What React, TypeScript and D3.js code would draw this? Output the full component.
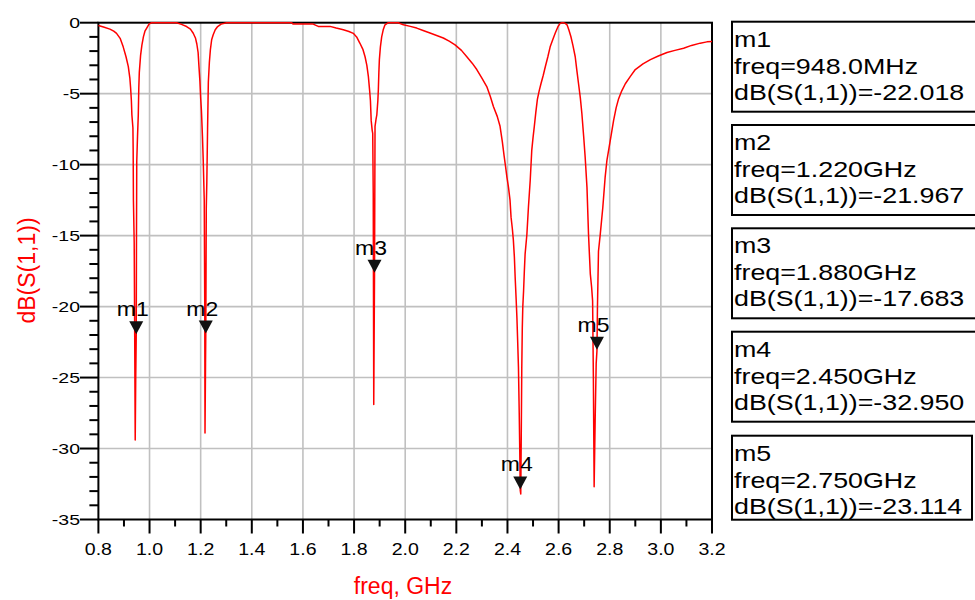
import React from 'react';
import * as d3 from 'd3';

// S11 trace (GHz, dB)
const freqGHz = [
  0.800, 0.820, 0.845, 0.860, 0.871, 0.885, 0.897, 0.908, 0.917, 0.923, 0.926, 0.929, 0.931, 0.935,
  0.936, 0.937, 0.940, 0.942, 0.944, 0.946, 0.948, 0.949, 0.950, 0.953, 0.956, 0.958, 0.960, 0.965,
  0.970, 0.976, 0.982, 0.989, 0.998, 1.008,
  1.100, 1.106, 1.125, 1.145, 1.160, 1.171, 1.180, 1.185, 1.190, 1.193, 1.197, 1.200, 1.203, 1.207,
  1.210, 1.214, 1.216, 1.217, 1.219, 1.220, 1.222, 1.224, 1.227, 1.230, 1.234, 1.238, 1.243, 1.249,
  1.257, 1.265, 1.280, 1.302,
  1.549, 1.556, 1.562, 1.640, 1.660, 1.706,
  1.730, 1.758, 1.780, 1.797, 1.810, 1.823, 1.835, 1.843, 1.850, 1.856, 1.861, 1.864, 1.867, 1.871,
  1.873, 1.875, 1.877, 1.880, 1.882, 1.886, 1.889, 1.893, 1.895, 1.897, 1.899, 1.903, 1.908, 1.914,
  1.921, 1.934, 1.973, 1.993, 2.020, 2.045, 2.070, 2.097, 2.123, 2.149, 2.172, 2.195, 2.220, 2.241,
  2.262, 2.280, 2.300, 2.319, 2.333, 2.345, 2.360, 2.371, 2.380, 2.387, 2.393, 2.398, 2.404, 2.410,
  2.414, 2.419, 2.423, 2.427, 2.430, 2.434, 2.437, 2.440, 2.443, 2.446, 2.448, 2.450, 2.452, 2.454,
  2.456, 2.458, 2.460, 2.463, 2.466, 2.469, 2.476, 2.482, 2.489, 2.495, 2.500, 2.505, 2.511, 2.517,
  2.524, 2.531, 2.540, 2.548, 2.558, 2.567, 2.577, 2.587, 2.597, 2.606, 2.613, 2.619, 2.626, 2.633,
  2.640, 2.648, 2.656, 2.665, 2.671, 2.678, 2.685, 2.691, 2.698, 2.704, 2.711, 2.717, 2.721, 2.724,
  2.729, 2.733, 2.736, 2.739, 2.743, 2.747, 2.750, 2.752, 2.756, 2.763, 2.773, 2.782, 2.789, 2.802,
  2.815, 2.825, 2.834, 2.847, 2.861, 2.880, 2.900, 2.930, 2.959, 2.990, 3.024, 3.055, 3.089, 3.120,
  3.154, 3.180, 3.200,
];
const s11dB = [
  -0.20, -0.30, -0.45, -0.60, -0.75, -1.10, -1.70, -2.40, -3.10, -3.90, -4.60, -5.50, -6.50, -7.40,
  -9.0, -12.5, -15.5, -22.0, -29.4, -25.0, -22.0, -15.0, -9.8, -8.0, -6.5, -4.6, -3.5, -2.3,
  -1.6, -1.0, -0.6, -0.38, -0.10, 0,
  0, 0, -0.12, -0.27, -0.45, -0.74, -1.1, -1.5, -2.1, -3.0, -4.1, -5.3, -6.2, -8.0,
  -9.7, -12.5, -20.0, -28.9, -24.0, -21.97, -13.0, -11.3, -7.5, -4.2, -2.8, -1.9, -1.2, -0.85,
  -0.5, -0.3, -0.1, 0,
  0, 0, -0.10, -0.10, -0.26, -0.26,
  -0.38, -0.50, -0.62, -0.75, -1.0, -1.45, -1.9, -2.4, -3.0, -3.8, -4.8, -5.5, -6.9, -7.6,
  -7.8, -12.0, -26.9, -17.68, -7.3, -6.8, -6.5, -5.5, -4.7, -3.5, -2.6, -1.7, -1.0, -0.5,
  -0.15, 0, 0, -0.15, -0.26, -0.38, -0.55, -0.73, -0.90, -1.08, -1.30, -1.56, -1.95, -2.4,
  -2.85, -3.3, -3.9, -4.5, -5.2, -5.9, -6.6, -7.3, -8.4, -9.4, -10.2, -10.9, -11.6, -12.5,
  -13.7, -14.5, -15.3, -16.5, -17.9, -19.5, -20.8, -22.5, -24.3, -27.5, -30.0, -32.95, -33.2, -29.0,
  -24.3, -21.5, -20.0, -18.9, -17.5, -16.3, -14.9, -13.0, -11.1, -9.0, -8.1, -7.3, -6.3, -5.4,
  -4.8, -4.3, -3.7, -3.1, -2.4, -1.7, -1.2, -0.73, -0.3, -0.05, 0, 0, -0.05, -0.15,
  -0.5, -0.97, -1.6, -2.4, -3.3, -4.3, -5.3, -6.4, -8.0, -9.5, -11.6, -14.9, -16.5, -17.7,
  -18.6, -19.6, -25.0, -32.7, -28.0, -24.0, -23.11, -20.0, -16.1, -14.9, -13.0, -10.9, -9.7, -8.3,
  -6.9, -6.0, -5.4, -4.8, -4.3, -3.8, -3.3, -2.9, -2.6, -2.35, -2.1, -1.95, -1.8, -1.6,
  -1.44, -1.35, -1.32,
];

const markerNames = ['m1', 'm2', 'm3', 'm4', 'm5'];
const markerFreqGHz = [0.948, 1.22, 1.88, 2.45, 2.75];
const markerDb = [-22.018, -21.967, -17.683, -32.95, -23.114];
const markerFreqText = ['948.0MHz', '1.220GHz', '1.880GHz', '2.450GHz', '2.750GHz'];
const markerDbText = ['-22.018', '-21.967', '-17.683', '-32.950', '-23.114'];

const xTickLabels = ['0.8', '1.0', '1.2', '1.4', '1.6', '1.8', '2.0', '2.2', '2.4', '2.6', '2.8', '3.0', '3.2'];
const yTickLabels = ['0', '-5', '-10', '-15', '-20', '-25', '-30', '-35'];

const FONT = "Arial, 'Liberation Sans', sans-serif";
const W = 975;
const H = 600;
const L = 98.4, R = 712, T = 22.7, B = 519.5;

const Txt = ({ x, y, sx = 1, size, anchor = 'start', fill = '#000', rotate = 0, children }: any) => (
  <text
    transform={`translate(${x},${y}) rotate(${rotate}) scale(${sx},1)`}
    fontSize={size}
    fontFamily={FONT}
    textAnchor={anchor}
    fill={fill}
  >
    {children}
  </text>
);

export default function App() {
  const x = d3.scaleLinear().domain([0.8, 3.2]).range([L, R]);
  const y = d3.scaleLinear().domain([-35, 0]).range([B, T]);

  const pts = freqGHz.map((f, i) => [f, s11dB[i]] as [number, number]);
  const line = d3.line<[number, number]>().x(d => x(d[0])).y(d => y(d[1]));

  const xMajor = xTickLabels.map(Number);
  const yMajor = yTickLabels.map(Number);
  const xMinor = x.ticks(24).filter(v => !xMajor.some(m => Math.abs(m - v) < 1e-6));
  const yMinor = y.ticks(35).filter(v => !yMajor.some(m => Math.abs(m - v) < 1e-6));

  const boxTop = [21.7, 125, 228.3, 331.7, 435.7];
  const boxH = [90, 90, 90, 90, 84];

  return (
    <svg width={W} height={H} style={{ position: 'absolute', left: 0, top: 0, background: '#fff' }}>
      {/* grid */}
      <g stroke="#c0c0c0" strokeWidth={1.6}>
        {xMajor.slice(1, -1).map(v => (
          <line key={'gx' + v} x1={x(v)} x2={x(v)} y1={T} y2={B} />
        ))}
        {yMajor.slice(1, -1).map(v => (
          <line key={'gy' + v} x1={L} x2={R} y1={y(v)} y2={y(v)} />
        ))}
      </g>

      {/* frame */}
      <rect x={L} y={T} width={R - L} height={B - T} fill="none" stroke="#000" strokeWidth={2} />

      {/* ticks */}
      <g stroke="#000" strokeWidth={2}>
        {yMajor.map(v => (
          <line key={'ty' + v} x1={L - 18.5} x2={L} y1={y(v)} y2={y(v)} />
        ))}
        {yMinor.map(v => (
          <line key={'tym' + v} x1={L - 9} x2={L} y1={y(v)} y2={y(v)} />
        ))}
        {xMajor.map(v => (
          <line key={'tx' + v} x1={x(v)} x2={x(v)} y1={B} y2={B + 14} />
        ))}
        {xMinor.map(v => (
          <line key={'txm' + v} x1={x(v)} x2={x(v)} y1={B} y2={B + 7} />
        ))}
      </g>

      {yMajor.map((v, i) => (
        <Txt key={'ly' + v} x={80} y={y(v) + 5.4} sx={1.3} size={15} anchor="end">
          {yTickLabels[i]}
        </Txt>
      ))}
      {xMajor.map((v, i) => (
        <Txt key={'lx' + v} x={x(v)} y={555} sx={1.15} size={17} anchor="middle">
          {xTickLabels[i]}
        </Txt>
      ))}

      <Txt x={35} y={270.5} size={23} anchor="middle" fill="#ff0000" rotate={-90}>
        dB(S(1,1))
      </Txt>
      <Txt x={403} y={594} size={23} anchor="middle" fill="#ff0000">
        freq, GHz
      </Txt>

      {/* trace */}
      <path d={line(pts) || ''} fill="none" stroke="#ff0000" strokeWidth={1.5} strokeLinejoin="round" />

      {/* markers */}
      {markerNames.map((m, i) => {
        const mx = x(markerFreqGHz[i]);
        const my = y(markerDb[i]);
        return (
          <g key={m}>
            <path d={`M${mx - 7},${my - 14} L${mx + 7},${my - 14} L${mx},${my - 1} Z`} fill="#111" />
            <Txt x={mx - 3.5} y={my - 19} sx={1.15} size={20} anchor="middle">
              {m}
            </Txt>
          </g>
        );
      })}

      {/* marker readouts */}
      {markerNames.map((m, i) => (
        <g key={'box' + m}>
          <rect
            x={732}
            y={boxTop[i]}
            width={i === 4 ? 240 : 260}
            height={boxH[i]}
            fill="#fff"
            stroke="#000"
            strokeWidth={2}
          />
          <Txt x={734} y={boxTop[i] + 25} sx={1.22} size={22}>{m}</Txt>
          <Txt x={734} y={boxTop[i] + 52} sx={1.22} size={22}>{'freq=' + markerFreqText[i]}</Txt>
          <Txt x={734} y={boxTop[i] + 78} sx={1.22} size={22}>{'dB(S(1,1))=' + markerDbText[i]}</Txt>
        </g>
      ))}
    </svg>
  );
}
